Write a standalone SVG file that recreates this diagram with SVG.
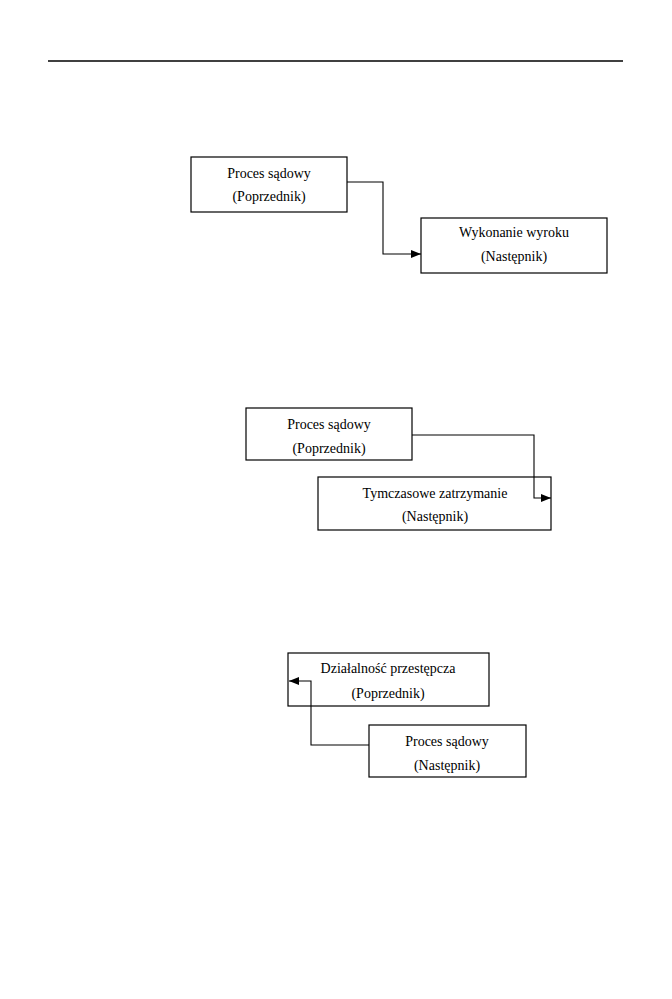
<svg xmlns="http://www.w3.org/2000/svg" width="672" height="999" viewBox="0 0 672 999">
<style>
.box{fill:#fff;stroke:#000;stroke-width:1.2}
.t{font-family:"Liberation Serif","Times New Roman",serif;font-size:14px;fill:#000;text-anchor:middle}
.c{fill:none;stroke:#000;stroke-width:1.1}
</style>
<defs>
<marker id="ah" markerWidth="10" markerHeight="8" refX="10" refY="4" orient="auto" markerUnits="userSpaceOnUse">
<path d="M0,0 L10,4 L0,8 Z" fill="#000"/>
</marker>
</defs>
<rect width="672" height="999" fill="#fff"/>
<line x1="48" y1="61" x2="623" y2="61" stroke="#000" stroke-width="1.3"/>
<g id="d1-prev"><rect class="box" x="191" y="157" width="156" height="55"/><text class="t" x="269" y="178">Proces sądowy</text><text class="t" x="269" y="201">(Poprzednik)</text></g>
<g id="d1-next"><rect class="box" x="421" y="218" width="186" height="55"/><text class="t" x="514" y="237">Wykonanie wyroku</text><text class="t" x="514" y="261">(Następnik)</text></g>
<g id="d2-prev"><rect class="box" x="246" y="408" width="166" height="52"/><text class="t" x="329" y="429">Proces sądowy</text><text class="t" x="329" y="453">(Poprzednik)</text></g>
<g id="d2-next"><rect class="box" x="318" y="477" width="233" height="53"/><text class="t" x="435" y="498">Tymczasowe zatrzymanie</text><text class="t" x="435" y="521">(Następnik)</text></g>
<g id="d3-prev"><rect class="box" x="288" y="653" width="201" height="53"/><text class="t" x="388" y="673">Działalność przestępcza</text><text class="t" x="388" y="698">(Poprzednik)</text></g>
<g id="d3-next"><rect class="box" x="369" y="725" width="157" height="52"/><text class="t" x="447" y="746">Proces sądowy</text><text class="t" x="447" y="770">(Następnik)</text></g>
<g id="connectors">
<path class="c" d="M347,182 H383 V254 H421" marker-end="url(#ah)"/>
<path class="c" d="M412,435 H534 V498 H551" marker-end="url(#ah)"/>
<path class="c" d="M369,745 H311 V681 H289" marker-end="url(#ah)"/>
</g>
</svg>
